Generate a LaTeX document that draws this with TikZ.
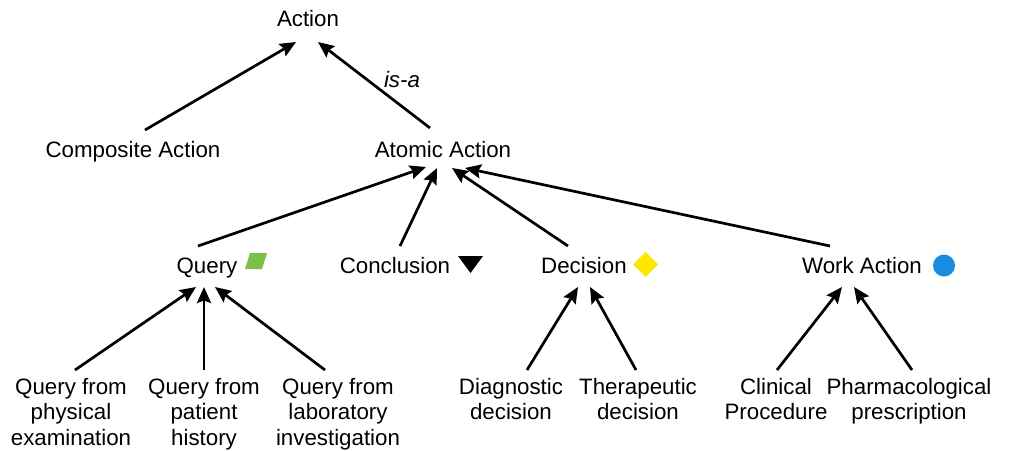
\documentclass[tikz,border=0pt]{standalone}
\usepackage{fontspec}
\setmainfont{Liberation Sans}
\usetikzlibrary{arrows.meta,calc}
\definecolor{qgreen}{RGB}{122,192,72}
\definecolor{dyellow}{RGB}{255,230,0}
\definecolor{wblue}{RGB}{26,140,224}
\begin{document}
\begin{tikzpicture}[x=1pt,y=-1pt,
  lbl/.style={inner sep=1pt,anchor=base,align=center,font=\fontsize{22.3}{25.5}\selectfont},
  mlbl/.style={lbl,anchor=north},
  arr/.style={line width=2.7pt,-{Stealth[length=16pt,width=14pt,inset=2.5pt]}}]
\useasboundingbox (0,0) rectangle (1011,450);
% nodes
\node[lbl] (action) at (308,26) {Action};
\node[lbl] (cpa) at (133,157) {Composite Action};
\node[lbl] (atomic) at (443,157) {Atomic Action};
\node[lbl,font=\fontsize{22.3}{25.5}\selectfont\itshape] (isa) at (402,87) {is-a};
\node[lbl] (query) at (207,273) {Query};
\node[lbl] (concl) at (395,273) {Conclusion};
\node[lbl] (decision) at (584,273) {Decision};
\node[lbl] (work) at (862,273) {Work Action};
\node[mlbl] (qpe) at (71,377) {Query from\\physical\\examination};
\node[mlbl] (qph) at (204,377) {Query from\\patient\\history};
\node[mlbl] (qli) at (338,377) {Query from\\laboratory\\investigation};
\node[mlbl] (diag) at (511,377) {Diagnostic\\decision};
\node[mlbl] (ther) at (638,377) {Therapeutic\\decision};
\node[mlbl] (clin) at (776,377) {Clinical\\Procedure};
\node[mlbl] (pharm) at (909,377) {Pharmacological\\prescription};
% symbols
\fill[qgreen] (245,269) -- (250,253) -- (267,253) -- (262,269) -- cycle;
\fill[black] (458,256) -- (483,256) -- (470.5,273) -- cycle;
\fill[dyellow] (645.5,252) -- (658,264.5) -- (645.5,277) -- (633,264.5) -- cycle;
\fill[wblue] (944,265.5) circle[radius=11];
% connectors
\draw[arr] ($(cpa.base)+(12,-27)$) -- ($(action.base)+(-12,16)$);
\draw[arr] ($(atomic.base)+(-13,-29)$) -- ($(action.base)+(10,16)$);
\draw[arr] ($(query.base)+(-9,-27)$) -- ($(atomic.base)+(-17,10)$);
\draw[arr] ($(concl.base)+(5,-27)$) -- ($(atomic.base)+(-6,11)$);
\draw[arr] ($(decision.base)+(-16,-27)$) -- ($(atomic.base)+(9,11)$);
\draw[arr] ($(work.base)+(-32,-27)$) -- ($(atomic.base)+(22,11)$);
\draw[arr] ($(qpe.north)+(4,-7)$) -- ($(query.base)+(-11,14)$);
\draw[arr] ($(qph.north)+(0,-7)$) -- ($(query.base)+(-3,14)$);
\draw[arr] ($(qli.north)+(-13,-7)$) -- ($(query.base)+(8,14)$);
\draw[arr] ($(diag.north)+(16,-7)$) -- ($(decision.base)+(-6,14)$);
\draw[arr] ($(ther.north)+(-2,-7)$) -- ($(decision.base)+(6,14)$);
\draw[arr] ($(clin.north)+(1,-7)$) -- ($(work.base)+(-20,14)$);
\draw[arr] ($(pharm.north)+(3,-7)$) -- ($(work.base)+(-8,14)$);
\end{tikzpicture}
\end{document}
